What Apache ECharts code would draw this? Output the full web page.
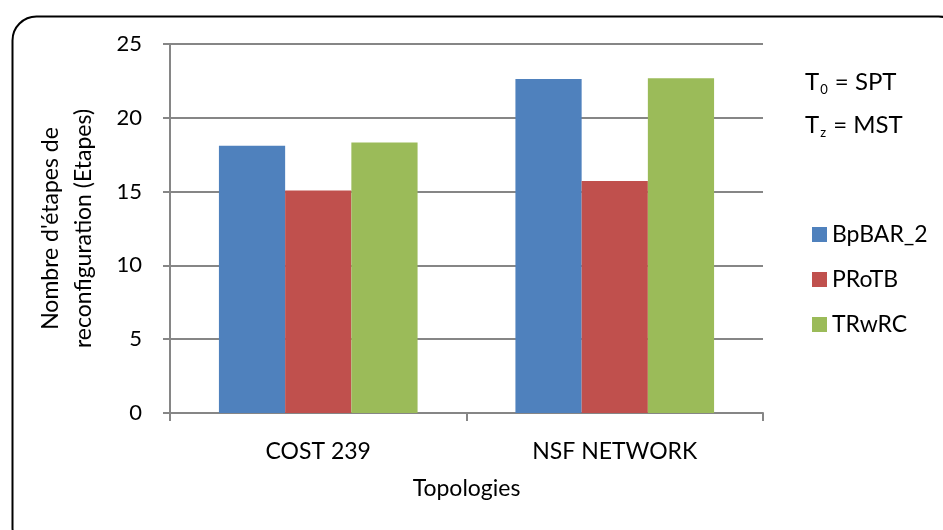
<!DOCTYPE html>
<html>
<head>
<meta charset="utf-8">
<script src="https://cdn.jsdelivr.net/npm/echarts@6/dist/echarts.min.js"></script>
<style>
html, body { margin: 0; padding: 0; background: #fff; }
#chart { width: 943px; height: 530px; }
</style>
</head>
<body>
<div id="chart"></div>
<script>
var categories = ['COST 239', 'NSF NETWORK'];
var seriesNames = ['BpBAR_2', 'PRoTB', 'TRwRC'];
var bpbar2 = [18.1, 22.63];
var protb = [15.07, 15.72];
var trwrc = [18.32, 22.68];
var yTicks = [0, 5, 10, 15, 20, 25];
var colors = ['#4f81bd', '#c0504d', '#9bbb59'];

var font = 'Lato, "Open Sans", sans-serif';
var chart = echarts.init(document.getElementById('chart'));

var option = {
    animation: false,
    color: colors,
    textStyle: { fontFamily: font },
    grid: {
        left: 170,
        right: 180,
        top: 44,
        bottom: 117
    },
    legend: {
        orient: 'vertical',
        left: 807,
        top: 218,
        itemWidth: 15,
        itemHeight: 15,
        itemGap: 22,
        icon: 'rect',
        textStyle: { fontFamily: font, fontSize: 23, color: '#000' },
        data: seriesNames
    },
    xAxis: {
        type: 'category',
        data: categories,
        name: 'Topologies',
        nameLocation: 'middle',
        nameGap: 64,
        nameTextStyle: { fontFamily: font, fontSize: 23, color: '#000' },
        axisLine: { lineStyle: { color: '#868686', width: 2 } },
        axisTick: { show: true, length: 8, lineStyle: { color: '#868686', width: 2 } },
        axisLabel: { fontFamily: font, fontSize: 23, color: '#000', margin: 27 }
    },
    yAxis: {
        type: 'value',
        min: yTicks[0],
        max: yTicks[yTicks.length - 1],
        interval: 5,
        name: "Nombre d'étapes de\nreconfiguration (Etapes)",
        nameLocation: 'middle',
        nameGap: 70,
        nameTextStyle: { fontFamily: font, fontSize: 23, color: '#000', lineHeight: 33 },
        axisLine: { show: true, lineStyle: { color: '#868686', width: 2 } },
        axisTick: { show: true, length: 7, lineStyle: { color: '#868686', width: 2 } },
        axisLabel: { fontFamily: font, fontSize: 22, color: '#000', margin: 28 },
        splitLine: { lineStyle: { color: '#868686', width: 2 } }
    },
    series: [
        { name: seriesNames[0], type: 'bar', data: bpbar2, barGap: 0, barCategoryGap: '33%' },
        { name: seriesNames[1], type: 'bar', data: protb, barGap: 0, barCategoryGap: '33%' },
        { name: seriesNames[2], type: 'bar', data: trwrc, barGap: 0, barCategoryGap: '33%' }
    ],
    graphic: [
        {
            type: 'rect',
            left: 10,
            top: 14,
            shape: { width: 950, height: 535, r: 24 },
            style: { fill: 'none', stroke: '#000', lineWidth: 2 },
            z: -1
        },
        {
            type: 'text',
            left: 805,
            top: 70,
            style: {
                text: '{a|T}{s|0}{a| = SPT}',
                rich: {
                    a: { fontFamily: font, fontSize: 24, fill: '#000' },
                    s: { fontFamily: font, fontSize: 13, fill: '#000', padding: [16, 1, 0, 1] }
                }
            }
        },
        {
            type: 'text',
            left: 805,
            top: 113,
            style: {
                text: '{a|T}{s|z}{a| = MST}',
                rich: {
                    a: { fontFamily: font, fontSize: 24, fill: '#000' },
                    s: { fontFamily: font, fontSize: 13, fill: '#000', padding: [16, 1, 0, 1] }
                }
            }
        }
    ]
};
chart.setOption(option);
</script>
</body>
</html>
